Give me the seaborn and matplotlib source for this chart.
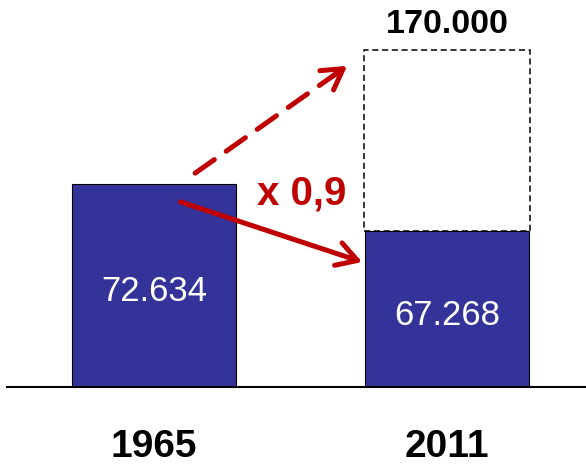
import matplotlib
matplotlib.use("Agg")
import matplotlib.pyplot as plt
import seaborn as sns

# data (bar heights as drawn in the picture, in thousands - the slide is not to scale)
years = ["1965", "2011"]
bar_heights = [102.4, 78.7]
value_labels = ["72.634", "67.268"]
target_height = 170.0
target_label = "170.000"
factor_label = "x 0,9"

bar_color = "#333399"
red = "#C00000"

sns.set_style("white")
plt.rcParams["font.family"] = ["Liberation Sans", "DejaVu Sans"]

fig = plt.figure(figsize=(5.86, 4.67), dpi=100)
ax = fig.add_axes([0.012, 0.171, 0.988, 0.829])

sns.barplot(x=years, y=bar_heights, color=bar_color, saturation=1, width=0.56,
            edgecolor="black", linewidth=0.8, ax=ax)

# dashed box on top of the 2011 bar up to the target
ax.bar(1, target_height - bar_heights[1], bottom=bar_heights[1], width=0.567,
       fill=False, edgecolor="black", linewidth=1.1, linestyle=(0, (4, 2.4)), zorder=3)

# value labels inside the bars
for i, (h, lab) in enumerate(zip(bar_heights, value_labels)):
    ax.text(i, h / 2 - 8, lab, color="white", fontsize=25, ha="center", va="baseline")

ax.text(1, target_height + 8.6, target_label, fontsize=24.5, fontweight="bold",
        ha="center", va="baseline", color="black")

# factor label between the bars
ax.text(0.505, sum(bar_heights) / 2 + 1.3, factor_label, fontsize=29, fontweight="bold",
        color=red, ha="center", va="baseline")

# solid arrow 1965 -> 2011
ax.annotate("", xy=(0.71, bar_heights[1] - 15.6), xytext=(0.09, bar_heights[0] - 9),
            arrowprops=dict(arrowstyle="->,head_length=1.45,head_width=0.85",
                            color=red, lw=3.6, shrinkA=0, shrinkB=0))

# dashed arrow 1965 -> target
x0, y0 = 0.14, bar_heights[0] + 5.5
x1, y1 = 0.659, target_height - 8
ax.annotate("", xy=(x1, y1), xytext=(x0, y0),
            arrowprops=dict(arrowstyle="-", color=red, lw=3.6, shrinkA=0, shrinkB=3,
                            linestyle=(0, (4.7, 2.9))))
ax.annotate("", xy=(x1, y1), xytext=(x1 - (x1 - x0) * 0.1, y1 - (y1 - y0) * 0.1),
            arrowprops=dict(arrowstyle="->,head_length=1.45,head_width=0.85",
                            color=red, lw=3.6, shrinkA=0, shrinkB=0))

ax.set_xlim(-0.502, 1.474)
ax.set_ylim(0, 195.2)
ax.set_yticks([])
ax.set_xlabel("")
ax.set_ylabel("")
for side in ["left", "right", "top"]:
    ax.spines[side].set_visible(False)
ax.spines["bottom"].set_linewidth(1.5)
ax.spines["bottom"].set_color("black")
ax.tick_params(axis="x", length=0, pad=30)
for t in ax.get_xticklabels():
    t.set_fontsize(28)
    t.set_fontweight("bold")
    t.set_color("black")

fig.savefig("out.png", dpi=100)
